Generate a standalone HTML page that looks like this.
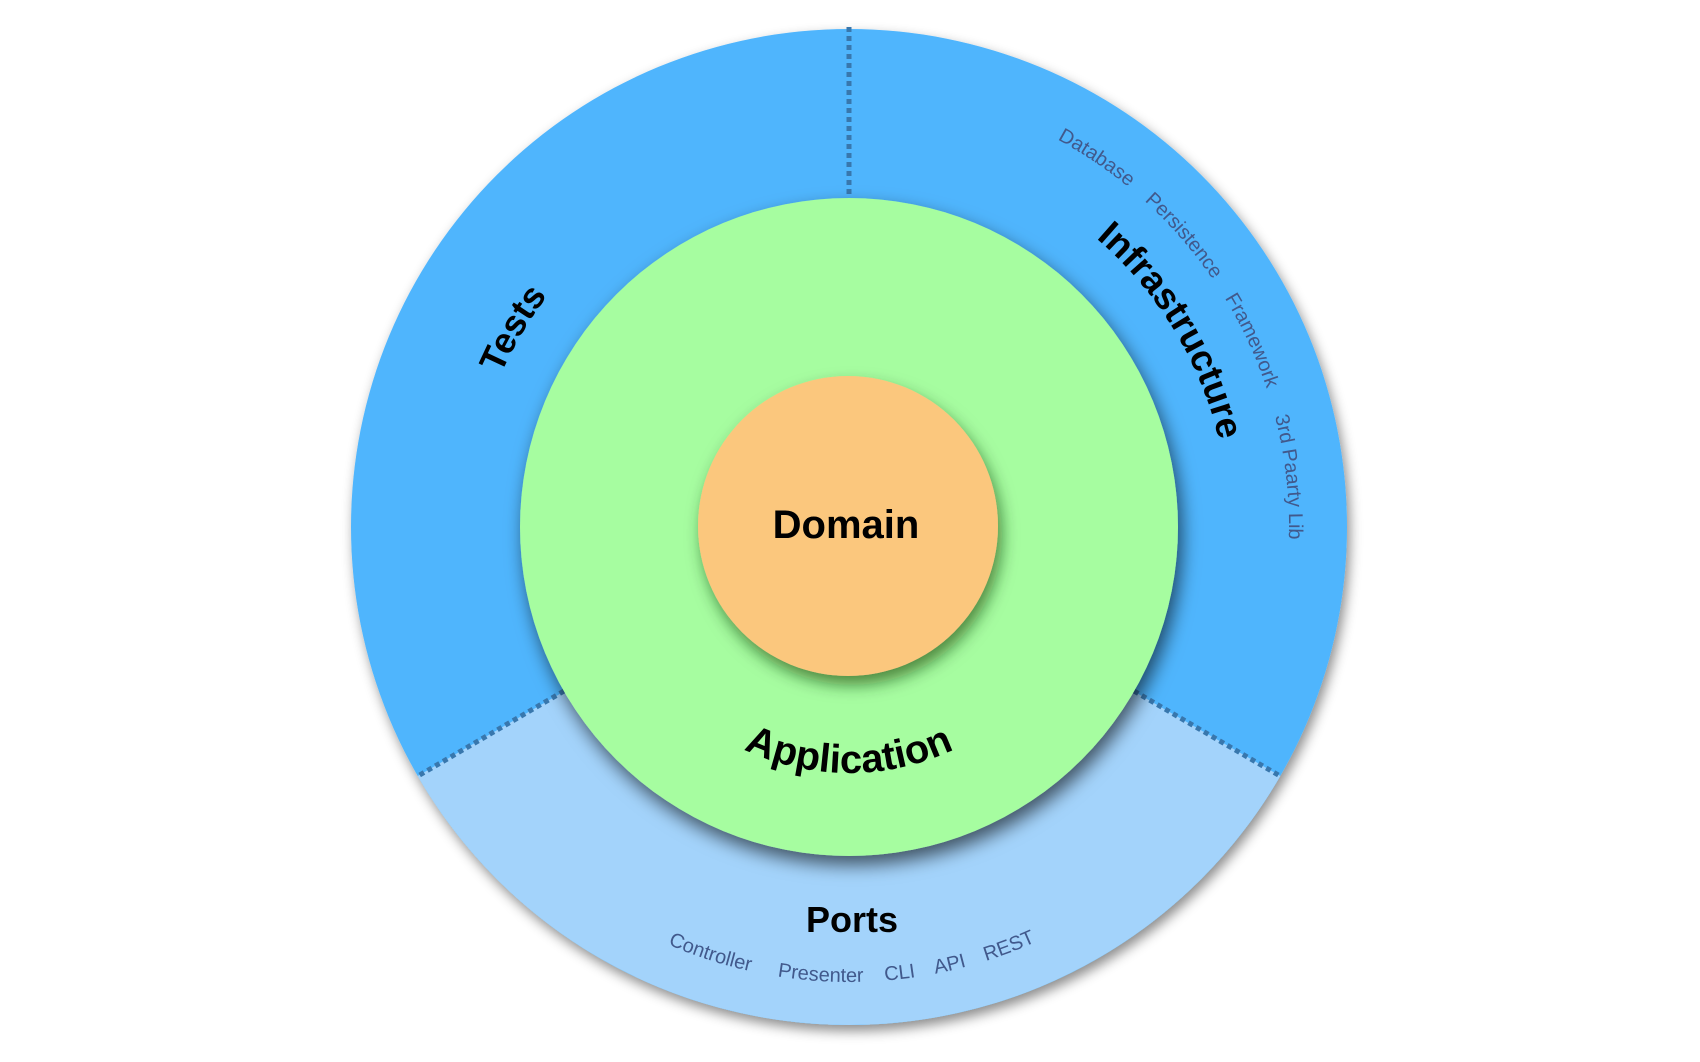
<!DOCTYPE html>
<html><head><meta charset="utf-8"><style>
html,body{margin:0;padding:0;background:#fff;}
svg{display:block;}
text{font-family:"Liberation Sans",sans-serif;}
</style></head><body>
<svg width="1700" height="1062" viewBox="0 0 1700 1062" xmlns="http://www.w3.org/2000/svg">
<defs>
<filter id="s1" x="-20%" y="-20%" width="140%" height="140%"><feDropShadow dx="3" dy="6" stdDeviation="6" flood-color="#000" flood-opacity="0.45"/></filter>
<filter id="s2" x="-20%" y="-20%" width="140%" height="140%"><feDropShadow dx="4" dy="9" stdDeviation="9" flood-color="#000" flood-opacity="0.6"/></filter>
<filter id="s3" x="-30%" y="-30%" width="160%" height="160%"><feDropShadow dx="4" dy="9" stdDeviation="8" flood-color="#0a3a00" flood-opacity="0.6"/></filter>
<path id="cw380" d="M469,527 A380,380 0 0 1 1229,527 A380,380 0 0 1 469,527"/>
<path id="cw440" d="M409,527 A440,440 0 0 1 1289,527 A440,440 0 0 1 409,527"/>
<path id="ccw246" d="M603,527 A246,246 0 0 0 1095,527 A246,246 0 0 0 603,527"/>
<path id="ccw455" d="M394,527 A455,455 0 0 0 1304,527 A455,455 0 0 0 394,527"/>
</defs>
<circle cx="849" cy="527" r="498" fill="#4fb5fd" filter="url(#s1)"/>
<path d="M849,527 L1280.3,776 A498,498 0 0 1 417.7,776 Z" fill="#a3d3fb"/>
<line x1="849" y1="27" x2="849" y2="200" stroke="#3877ad" stroke-width="5" stroke-dasharray="5 4"/>
<line x1="1134" y1="691" x2="1280" y2="776" stroke="#3877ad" stroke-width="5" stroke-dasharray="5 4"/>
<line x1="564" y1="691" x2="418" y2="776" stroke="#3877ad" stroke-width="5" stroke-dasharray="5 4"/>
<circle cx="849" cy="527" r="329" fill="#a6fda0" filter="url(#s2)"/>
<circle cx="848" cy="526" r="150" fill="#fbc77d" filter="url(#s3)"/>
<text x="846" y="538" font-size="40" font-weight="bold" text-anchor="middle" fill="#000">Domain</text>
<text font-size="40" font-weight="bold" fill="#000" text-anchor="middle"><textPath href="#ccw246" startOffset="25%">Application</textPath></text>
<text x="852" y="932" font-size="36" font-weight="bold" text-anchor="middle" fill="#000">Ports</text>
<text font-size="36" font-weight="bold" fill="#000" text-anchor="middle"><textPath href="#cw380" startOffset="8.5%">Tests</textPath></text>
<text font-size="37" font-weight="bold" fill="#000" text-anchor="middle"><textPath href="#cw380" startOffset="41.3%">Infrastructure</textPath></text>
<g font-size="20" fill="#41598c" text-anchor="middle">
<text><textPath href="#cw440" startOffset="34.4%">Database</textPath></text>
<text><textPath href="#cw440" startOffset="38.6%">Persistence</textPath></text>
<text><textPath href="#cw440" startOffset="43.1%">Framework</textPath></text>
<text><textPath href="#cw440" startOffset="48.2%">3rd Paarty Lib</textPath></text>
<text><textPath href="#ccw455" startOffset="20%">Controller</textPath></text>
<text><textPath href="#ccw455" startOffset="24%">Presenter</textPath></text>
<text><textPath href="#ccw455" startOffset="26.8%">CLI</textPath></text>
<text><textPath href="#ccw455" startOffset="28.6%">API</textPath></text>
<text><textPath href="#ccw455" startOffset="30.8%">REST</textPath></text>
</g>
</svg>
</body></html>
